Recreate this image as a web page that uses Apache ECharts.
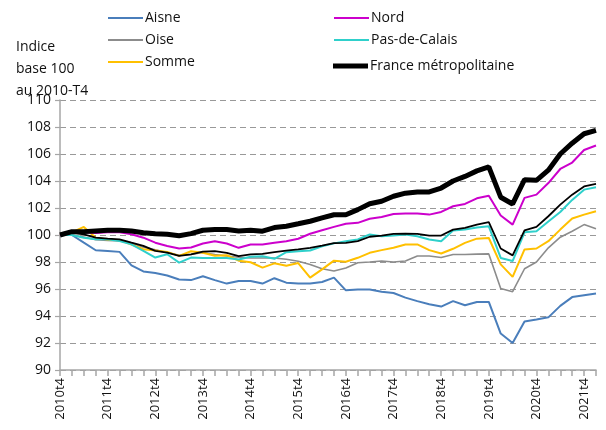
<!DOCTYPE html>
<html>
<head>
<meta charset="utf-8">
<script src="https://cdn.jsdelivr.net/npm/echarts@6/dist/echarts.min.js"></script>
<style>
    html, body { margin: 0; padding: 0; background: #fff; }
    #chart { width: 606px; height: 430px; }
</style>
</head>
<body>
<div id="chart"></div>
<script>
// trimestres 2010t4 -> 2022t1
const quarters = []
for (let y = 2010; y <= 2022; y++) {
    for (let q = 1; q <= 4; q++) {
        if ((y === 2010 && q < 4) || (y === 2022 && q > 1)) continue
        quarters.push(`${y}t${q}`)
    }
}

const yTicks = [90, 92, 94, 96, 98, 100, 102, 104, 106, 108, 110]

const aisne = [100, 100.0, 99.43, 98.87, 98.82, 98.75, 97.75, 97.3, 97.18, 97.0, 96.7, 96.66, 96.95, 96.66, 96.4, 96.6, 96.6, 96.4, 96.8, 96.47, 96.4, 96.4, 96.52, 96.84, 95.9, 95.97, 95.97, 95.8, 95.7, 95.36, 95.1, 94.87, 94.7, 95.1, 94.8, 95.04, 95.04, 92.7, 92.0, 93.6, 93.74, 93.9, 94.75, 95.4, 95.53, 95.66]
const oise = [100, 100.0, 99.85, 99.65, 99.6, 99.55, 99.4, 99.1, 98.9, 98.7, 98.5, 98.55, 98.7, 98.55, 98.45, 98.35, 98.3, 98.3, 98.3, 98.2, 98.05, 97.82, 97.5, 97.33, 97.55, 97.95, 98.0, 98.07, 98.0, 98.07, 98.45, 98.45, 98.33, 98.56, 98.56, 98.58, 98.6, 96.04, 95.8, 97.5, 98.0, 99.05, 99.84, 100.28, 100.77, 100.46]
const somme = [100, 100.2, 100.6, 99.8, 99.67, 99.62, 99.3, 98.95, 98.85, 98.75, 98.45, 98.8, 98.68, 98.47, 98.5, 98.1, 97.98, 97.58, 97.9, 97.72, 97.92, 96.84, 97.45, 98.1, 98.02, 98.31, 98.68, 98.88, 99.05, 99.3, 99.3, 98.88, 98.63, 98.98, 99.42, 99.73, 99.78, 97.82, 96.9, 98.93, 99.0, 99.54, 100.4, 101.22, 101.51, 101.76]
const nord = [100, 100.2, 100.2, 100.15, 100.2, 100.2, 100.05, 99.8, 99.43, 99.19, 99.0, 99.07, 99.37, 99.54, 99.37, 99.05, 99.3, 99.3, 99.42, 99.54, 99.72, 100.09, 100.35, 100.6, 100.83, 100.9, 101.2, 101.34, 101.56, 101.59, 101.59, 101.51, 101.71, 102.13, 102.3, 102.72, 102.9, 101.44, 100.77, 102.75, 102.99, 103.85, 104.89, 105.37, 106.3, 106.63]
const pasDeCalais = [100, 100.0, 99.8, 99.68, 99.68, 99.56, 99.31, 98.82, 98.33, 98.57, 97.95, 98.33, 98.3, 98.3, 98.3, 98.19, 98.39, 98.43, 98.24, 98.73, 98.8, 98.85, 99.17, 99.38, 99.54, 99.67, 100.04, 99.91, 99.96, 100.04, 99.91, 99.67, 99.54, 100.33, 100.4, 100.55, 100.64, 98.3, 98.07, 100.2, 100.28, 101.0, 101.7, 102.6, 103.36, 103.53]
// courbe noire fine, sans entrée de légende
const hautsDeFrance = [100, 100.17, 100.05, 99.8, 99.73, 99.68, 99.43, 99.19, 98.82, 98.7, 98.45, 98.57, 98.77, 98.8, 98.68, 98.43, 98.56, 98.6, 98.73, 98.85, 98.93, 99.05, 99.22, 99.4, 99.42, 99.54, 99.87, 99.96, 100.09, 100.1, 100.09, 99.96, 99.96, 100.4, 100.53, 100.77, 100.95, 99.0, 98.49, 100.35, 100.6, 101.39, 102.25, 102.99, 103.6, 103.78]
const france = [100, 100.25, 100.25, 100.3, 100.35, 100.35, 100.3, 100.17, 100.1, 100.05, 99.95, 100.1, 100.35, 100.4, 100.4, 100.3, 100.35, 100.28, 100.55, 100.65, 100.83, 101.02, 101.27, 101.5, 101.5, 101.88, 102.32, 102.5, 102.87, 103.1, 103.19, 103.19, 103.48, 104.0, 104.34, 104.75, 105.05, 102.8, 102.3, 104.1, 104.05, 104.8, 106.0, 106.8, 107.5, 107.75]

const FONT = 'Open Sans'
const GRAY = '#a6a6a6'

const chart = echarts.init(document.getElementById('chart'))

function line(name, data, color, width, z) {
    return {
        name: name,
        type: 'line',
        data: data,
        symbol: 'none',
        showSymbol: false,
        smooth: false,
        z: z,
        color: color,
        lineStyle: { width: width, color: color },
        emphasis: { disabled: true },
    }
}

const legendBase = {
    orient: 'vertical',
    top: 6,
    itemWidth: 35,
    itemHeight: 10,
    itemGap: 8,
    itemStyle: { opacity: 0 },
    selectedMode: false,
    textStyle: { fontFamily: FONT, fontSize: 14, color: '#111', padding: [0, 0, 0, -3] },
}

const option = {
    animation: false,
    textStyle: { fontFamily: FONT },
    legend: [
        Object.assign({}, legendBase, { left: 102, data: ['Aisne', 'Oise', 'Somme'] }),
        Object.assign({}, legendBase, { left: 328, data: ['Nord', 'Pas-de-Calais'] }),
        // trait épais pour la France
        Object.assign({}, legendBase, {
            left: 328,
            top: 54,
            icon: 'rect',
            itemHeight: 5,
            itemStyle: { color: '#000', opacity: 1 },
            data: ['France métropolitaine']
        }),
    ],
    graphic: [{
        type: 'text',
        left: 16,
        top: 36,
        style: {
            text: 'Indice\nbase 100\nau 2010-T4',
            font: `14px "${FONT}"`,
            lineHeight: 22,
            fill: '#111',
        }
    }],
    grid: { left: 60, right: 10, top: 100, bottom: 60 },
    xAxis: {
        type: 'category',
        data: quarters,
        boundaryGap: false,
        axisLine: { lineStyle: { color: GRAY, width: 1.5 } },
        axisTick: { show: true, interval: 0, length: 6, lineStyle: { color: GRAY, width: 1.5 } },
        axisLabel: {
            interval: 3,
            rotate: 90,
            fontSize: 13,
            color: '#111',
            fontFamily: FONT,
            margin: 8,
        },
        splitLine: { show: false },
    },
    yAxis: {
        type: 'value',
        min: yTicks[0],
        max: yTicks[yTicks.length - 1],
        interval: 2,
        axisLine: { show: true, lineStyle: { color: GRAY, width: 1.5 } },
        axisTick: { show: true, length: 5, lineStyle: { color: GRAY, width: 1.2 } },
        axisLabel: { fontSize: 14, color: '#111', fontFamily: FONT, margin: 9 },
        splitLine: {
            show: true,
            lineStyle: { color: '#999', width: 1.2, type: [6, 4] },
        },
    },
    series: [
        line('Aisne', aisne, '#4a7ebb', 2, 2),
        line('Oise', oise, '#8c8c8c', 1.6, 2),
        line('Somme', somme, '#ffc000', 2, 3),
        line('Pas-de-Calais', pasDeCalais, '#2fd0cb', 2, 3),
        line('Hauts-de-France', hautsDeFrance, '#000', 1.8, 4),
        line('Nord', nord, '#cc00cc', 2, 4),
        line('France métropolitaine', france, '#000', 5, 5),
    ]
}

chart.setOption(option)
</script>
</body>
</html>
